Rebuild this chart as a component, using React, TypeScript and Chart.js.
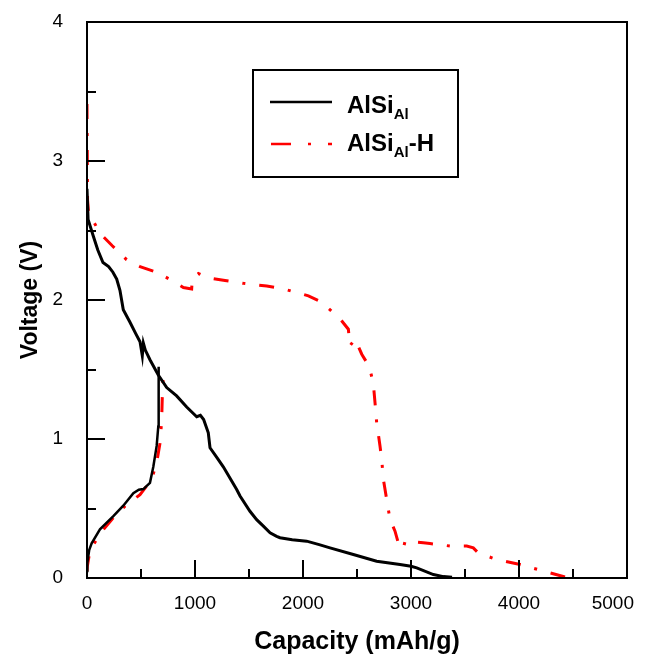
import React, { useEffect, useRef } from "react";
import { Chart, registerables } from "chart.js";

Chart.register(...registerables);

// ---- Data ----
const seriesNames = ["AlSi", "AlSi-H"];
const xTickValues = [0, 1000, 2000, 3000, 4000, 5000];
const yTickValues = [0, 1, 2, 3, 4];

// AlSi_Al (black) discharge
const blackDisCap = [0, 10, 58, 100, 148, 200, 240, 275, 305, 336, 398, 450, 491, 512, 522, 540, 583, 660, 738, 830, 923, 1016, 1050, 1080, 1123, 1139, 1200, 1262, 1386, 1417, 1509, 1571, 1633, 1695, 1756, 1787, 1900, 2034, 2150, 2250, 2466, 2682, 2898, 3000, 3053, 3207, 3300, 3380];
const blackDisV = [2.8, 2.58, 2.46, 2.36, 2.27, 2.24, 2.2, 2.15, 2.07, 1.93, 1.84, 1.76, 1.7, 1.6, 1.69, 1.64, 1.57, 1.46, 1.37, 1.31, 1.23, 1.16, 1.17, 1.14, 1.045, 0.937, 0.87, 0.8, 0.637, 0.59, 0.48, 0.42, 0.373, 0.325, 0.3, 0.29, 0.275, 0.265, 0.24, 0.217, 0.169, 0.121, 0.097, 0.085, 0.073, 0.025, 0.01, 0.005];

// AlSi_Al (black) charge
const blackChgCap = [0, 3, 20, 43, 120, 244, 336, 429, 480, 522, 583, 614, 645, 660, 662, 665];
const blackChgV = [0.05, 0.11, 0.2, 0.25, 0.35, 0.445, 0.52, 0.61, 0.635, 0.64, 0.685, 0.8, 0.95, 1.09, 1.3, 1.52];

// AlSi_Al-H (red) discharge
const redDisCap = [0, 3, 5, 15, 43, 120, 234, 367, 491, 645, 799, 892, 969, 975, 1031, 1123, 1278, 1447, 1664, 1818, 1911, 2050, 2158, 2235, 2343, 2420, 2435, 2482, 2544, 2614, 2651, 2667, 2682, 2713, 2729, 2744, 2775, 2806, 2852, 2883, 2900, 2930, 2945, 3022, 3114, 3176, 3361, 3516, 3577, 3623, 3793, 4010, 4118, 4287, 4457, 4470];
const redDisV = [3.41, 3.0, 2.72, 2.62, 2.59, 2.48, 2.39, 2.29, 2.24, 2.2, 2.135, 2.09, 2.08, 2.15, 2.19, 2.16, 2.14, 2.12, 2.1, 2.08, 2.06, 2.03, 1.99, 1.94, 1.865, 1.79, 1.67, 1.72, 1.61, 1.52, 1.4, 1.26, 1.12, 0.95, 0.85, 0.71, 0.565, 0.42, 0.337, 0.25, 0.215, 0.215, 0.265, 0.26, 0.253, 0.248, 0.23, 0.23, 0.217, 0.18, 0.133, 0.097, 0.073, 0.037, 0.0, 0.0];

// AlSi_Al-H (red) charge
const redChgCap = [0, 3, 28, 127, 244, 352, 491, 599, 645, 676, 691, 700, 716];
const redChgV = [0.05, 0.085, 0.2, 0.325, 0.433, 0.517, 0.6, 0.71, 0.83, 0.97, 1.13, 1.38, 1.505];

const toPoints = (xs: number[], ys: number[]) => xs.map((x, i) => ({ x, y: ys[i] }));

const RED_DASH = [15, 14, 3, 14];
const FONT = "'Liberation Sans', Arial, sans-serif";

const framePlugin = {
  id: "frameTicksLegend",
  afterDraw(chart: any) {
    const ctx = chart.ctx;
    const { left, right, top, bottom } = chart.chartArea;
    const xs = chart.scales.x;
    const ys = chart.scales.y;
    ctx.save();
    ctx.strokeStyle = "#000";
    ctx.lineWidth = 2;
    ctx.setLineDash([]);
    // ticks (inward)
    ctx.beginPath();
    for (let v = 0; v <= 5000; v += 500) {
      const px = Math.round(xs.getPixelForValue(v));
      const len = v % 1000 === 0 ? 18 : 9;
      ctx.moveTo(px, bottom);
      ctx.lineTo(px, bottom - len);
    }
    for (let v = 0; v <= 4; v += 0.5) {
      const py = Math.round(ys.getPixelForValue(v));
      const len = v % 1 === 0 ? 18 : 9;
      ctx.moveTo(left, py);
      ctx.lineTo(left + len, py);
    }
    ctx.stroke();
    // frame
    ctx.strokeRect(left, top, right - left, bottom - top);

    // x tick labels (kept inside the visible page width)
    ctx.fillStyle = "#000";
    ctx.font = `19px ${FONT}`;
    ctx.textAlign = "center";
    ctx.textBaseline = "middle";
    const maxRight = chart.width - 10;
    xTickValues.forEach((v) => {
      const label = String(v);
      const w = ctx.measureText(label).width;
      let cx = xs.getPixelForValue(v);
      if (cx + w / 2 > maxRight) cx = maxRight - w / 2;
      ctx.fillText(label, cx, bottom + 26);
    });

    // legend
    const bx = 245, by = 62, bw = 205, bh = 107;
    ctx.fillStyle = "#fff";
    ctx.fillRect(bx, by, bw, bh);
    ctx.strokeStyle = "#000";
    ctx.lineWidth = 2;
    ctx.strokeRect(bx, by, bw, bh);

    ctx.lineWidth = 2.5;
    ctx.beginPath();
    ctx.moveTo(262, 94);
    ctx.lineTo(324, 94);
    ctx.stroke();

    ctx.strokeStyle = "#ff0000";
    ctx.setLineDash([20, 17, 3, 17]);
    ctx.beginPath();
    ctx.moveTo(263, 136);
    ctx.lineTo(324, 136);
    ctx.stroke();
    ctx.setLineDash([]);

    ctx.fillStyle = "#000";
    ctx.textBaseline = "alphabetic";
    ctx.textAlign = "left";
    const drawEntry = (name: string, suffix: string, baseY: number) => {
      let x = 339;
      ctx.font = `bold 24px ${FONT}`;
      ctx.fillText(name, x, baseY);
      x += ctx.measureText(name).width;
      ctx.font = `bold 15px ${FONT}`;
      ctx.fillText("Al", x, baseY + 6);
      x += ctx.measureText("Al").width;
      if (suffix) {
        ctx.font = `bold 24px ${FONT}`;
        ctx.fillText(suffix, x, baseY);
      }
    };
    drawEntry("AlSi", "", 105);
    drawEntry("AlSi", "-H", 143);
    ctx.restore();
  },
};

const zeroPad = (s: any) => {
  s.paddingTop = 0;
  s.paddingBottom = 0;
  s.paddingLeft = 0;
  s.paddingRight = 0;
};

export default function App() {
  const ref = useRef<HTMLCanvasElement | null>(null);
  useEffect(() => {
    if (!ref.current) return;
    const tickFont = { family: FONT, size: 19 };
    const xTitleFont = { family: FONT, size: 25, weight: "bold" as const, lineHeight: 1.2 };
    const yTitleFont = { family: FONT, size: 23, weight: "bold" as const, lineHeight: 1.2 };
    const chart = new Chart(ref.current, {
      type: "line",
      data: {
        datasets: [
          {
            label: seriesNames[0],
            data: toPoints(blackDisCap, blackDisV),
            borderColor: "#000",
            borderWidth: 3,
            pointRadius: 0,
            tension: 0,
            fill: false,
          },
          {
            label: seriesNames[0] + " charge",
            data: toPoints(blackChgCap, blackChgV),
            borderColor: "#000",
            borderWidth: 2.5,
            pointRadius: 0,
            tension: 0,
            fill: false,
          },
          {
            label: seriesNames[1],
            data: toPoints(redDisCap, redDisV),
            borderColor: "#ff0000",
            borderWidth: 3,
            borderDash: RED_DASH,
            pointRadius: 0,
            tension: 0,
            fill: false,
          },
          {
            label: seriesNames[1] + " charge",
            data: toPoints(redChgCap, redChgV),
            borderColor: "#ff0000",
            borderWidth: 3,
            borderDash: RED_DASH,
            pointRadius: 0,
            tension: 0,
            fill: false,
          },
        ],
      },
      options: {
        animation: false,
        responsive: false,
        layout: { padding: { top: 14, right: 17, left: 0, bottom: 0 } },
        plugins: { legend: { display: false }, tooltip: { enabled: false } },
        scales: {
          x: {
            type: "linear",
            min: 0,
            max: 5000,
            afterFit: (s: any) => { s.height = 80; zeroPad(s); },
            afterBuildTicks: (s: any) => { s.ticks = xTickValues.map((v) => ({ value: v })); },
            grid: { display: false },
            border: { display: false },
            ticks: { display: false },
            title: { display: true, text: "Capacity (mAh/g)", color: "#000", font: xTitleFont, padding: { top: 0, bottom: 1 } },
          },
          y: {
            type: "linear",
            min: 0,
            max: 4,
            afterFit: (s: any) => { s.width = 79; zeroPad(s); },
            afterBuildTicks: (s: any) => { s.ticks = yTickValues.map((v) => ({ value: v })); },
            grid: { display: false },
            border: { display: false },
            ticks: { color: "#000", font: tickFont, padding: 16, callback: (v: any) => String(v) },
            title: { display: true, text: "Voltage (V)", color: "#000", font: yTitleFont, padding: { top: 9, bottom: 0 } },
          },
        },
      },
      plugins: [framePlugin],
    });
    return () => chart.destroy();
  }, []);
  return (
    <canvas ref={ref} width={636} height={650} style={{ display: "block", width: 636, height: 650 }} />
  );
}
